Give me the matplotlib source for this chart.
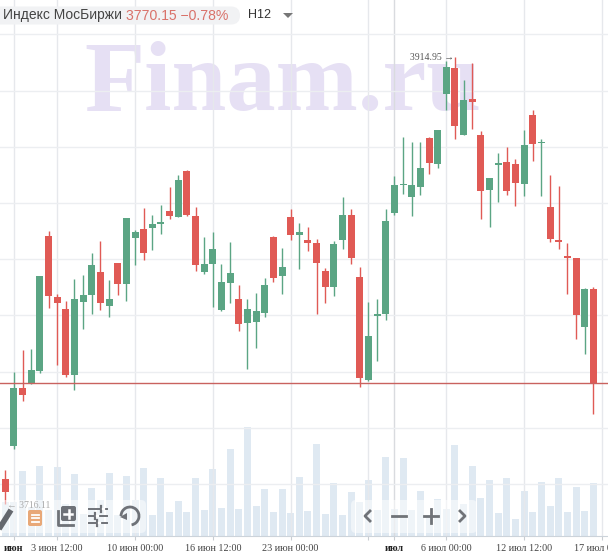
import matplotlib
matplotlib.use('Agg')
import matplotlib.pyplot as plt
from matplotlib.patches import FancyBboxPatch, Arc, Polygon

# MOEX index, H12 candles
opens = [3727.2,3742.0,3767.7,3769.9,3775.4,3835.3,3808.3,3802.8,3773.5,3805.9,3809.1,3819.4,3804.2,3823.3,3813.9,3834.4,
         3838.4,3838.9,3840.6,3846.4,3843.8,3864.2,3844.2,3819.3,3822.8,3802.4,3814.5,3807.3,3796.6,3797.0,3801.0,3834.9,
         3817.5,3843.8,3835.7,3833.5,3832.2,3819.7,3812.7,3833.5,3844.6,3817.1,3771.2,3799.8,3800.6,3845.5,3858.0,3852.7,
         3857.1,3878.9,3867.3,3898.5,3910.0,3880.2,3896.3,3880.2,3855.8,3866.9,3868.2,3867.3,3858.4,3889.1,3876.7,3848.2,
         3833.5,3826.4,3825.5,3794.8,3811.7]
highs = [3731.2,3774.8,3784.6,3785.0,3817.5,3837.5,3809.5,3806.4,3816.2,3818.0,3827.7,3833.1,3815.7,3823.3,3843.3,3838.0,
         3847.6,3844.6,3849.1,3857.1,3862.4,3864.7,3848.2,3834.9,3837.1,3822.8,3832.6,3813.5,3807.3,3809.9,3816.6,3835.3,
         3830.0,3847.3,3841.1,3839.3,3834.0,3821.1,3833.1,3852.7,3847.3,3821.5,3805.9,3807.3,3847.3,3862.0,3879.3,3877.1,
         3877.1,3879.3,3882.5,3913.2,3914.95,3904.7,3912.3,3882.0,3861.1,3872.2,3874.9,3869.6,3882.5,3891.4,3878.5,3862.4,
         3857.5,3832.2,3825.5,3812.2,3812.6]
lows = [3716.11,3740.5,3762.0,3769.7,3774.5,3803.4,3777.9,3772.7,3766.8,3794.1,3800.6,3802.4,3799.4,3809.1,3806.5,3822.4,
        3824.6,3829.1,3836.2,3842.9,3843.8,3844.2,3819.7,3818.4,3803.8,3801.9,3805.6,3793.2,3776.1,3785.5,3799.4,3815.0,
        3809.5,3833.5,3820.6,3828.6,3800.6,3805.6,3808.8,3829.5,3822.8,3768.3,3770.9,3779.7,3797.9,3844.6,3854.0,3844.2,
        3853.5,3862.9,3865.6,3891.4,3878.5,3880.2,3882.9,3842.9,3839.3,3850.4,3853.5,3848.7,3853.1,3868.7,3853.1,3832.6,
        3829.5,3809.5,3789.5,3782.8,3756.1]
closes = [3721.4,3767.8,3764.6,3775.7,3817.5,3808.8,3805.5,3773.5,3807.3,3808.9,3822.4,3805.6,3807.3,3813.9,3843.3,3836.9,
          3827.7,3840.6,3841.7,3844.2,3860.2,3844.6,3822.4,3822.7,3829.5,3815.0,3818.8,3796.2,3802.8,3801.9,3813.5,3816.6,
          3821.5,3835.7,3837.1,3832.2,3823.3,3812.7,3831.8,3844.6,3825.5,3772.1,3790.8,3800.6,3842.0,3858.0,3858.4,3858.0,
          3865.6,3867.8,3882.5,3910.5,3884.2,3895.8,3894.9,3855.3,3861.1,3867.8,3855.3,3858.9,3875.8,3876.2,3877.3,3834.0,
          3832.6,3825.5,3800.2,3811.7,3770.15]
volumes = [34,34,65,29,70,26,69,32,62,22,48,36,63,21,60,36,68,21,58,24,35,24,58,26,67,28,87,27,109,30,47,24,47,23,59,
           25,92,22,53,21,44,34,56,26,79,27,78,26,45,21,37,27,91,32,70,38,56,23,58,17,45,24,54,30,58,24,49,25,53]

price_grid = [3925,3900,3875,3850,3825,3800,3775,3750,3725]
tick_idx = [1,6,15,24,33,42,45,51,60,69]
tick_labels = ['июн','3 июн 12:00','10 июн 00:00','16 июн 12:00','23 июн 00:00','','июл','6 июл 00:00','12 июл 12:00','17 июл 00:00']
month_ticks = [1,45]

GREEN = '#5ba584'
RED = '#e05a55'
GREY = '#707378'
W, H = 608, 560
BASE = 535.7

fig = plt.figure(figsize=(6.08,5.6), dpi=100)
rect = [0, 1-BASE/H, 1, BASE/H]

# watermark goes behind everything
back = fig.add_axes([0,0,1,1], zorder=0)
back.set_xlim(0,W)
back.set_ylim(H,0)
back.axis('off')
back.text(282.5, 110, 'Finam.ru', family='Liberation Serif', weight='bold', fontsize=71, color='#e6e0f4',
          ha='center', va='baseline')

# volume sits underneath, on its own scale
vol_ax = fig.add_axes(rect, zorder=1)
vol_ax.patch.set_visible(False)
vol_ax.set_xlim(-0.613, 69.7)
vol_ax.set_ylim(0, BASE)
vol_ax.bar(range(len(volumes)), volumes, width=0.81, color='#dfe9f2')
vol_ax.axis('off')

ax = fig.add_axes(rect, zorder=2)
ax.patch.set_visible(False)
ax.set_xlim(-0.613, 69.7)
ax.set_ylim(3702.0, 3940.32)
for s in ['top','left','right']:
    ax.spines[s].set_visible(False)
ax.spines['bottom'].set_color('#ccd3da')
ax.set_yticks(price_grid)
ax.tick_params(axis='y', left=False, labelleft=False)
ax.set_xticks(tick_idx)
ax.set_xticklabels(tick_labels, family='Liberation Serif', fontsize=7.3, color='#444444')
ax.tick_params(axis='x', length=3, width=0.8, color='#c9cdd2', pad=3)
for t, lab in zip(tick_idx, ax.get_xticklabels()):
    if t in month_ticks:
        lab.set_fontweight('bold')
        lab.set_color('#222222')
ax.grid(axis='y', color='#eceef1', lw=1)
ax.grid(axis='x', color='#e6e8ec', lw=1)
ax.get_xgridlines()[tick_idx.index(45)].set_color('#d9dbdf')
ax.set_axisbelow(True)

for i in range(len(opens)):
    c = GREEN if closes[i] >= opens[i] else RED
    ax.vlines(i, lows[i], highs[i], color=c, lw=1, zorder=3)
    ax.bar(i, abs(closes[i]-opens[i]), bottom=min(opens[i],closes[i]), width=0.81, color=c, zorder=3)

ax.axhline(closes[-1], color='#c9625f', lw=1, zorder=4)

hi = highs.index(max(highs))
lo = lows.index(min(lows))
ax.annotate(f'{highs[hi]:.2f} →', (hi, highs[hi]), xytext=(-1,0), textcoords='offset points', ha='right', va='center',
            family='Liberation Serif', fontsize=7, color='#555555', zorder=5)
ax.annotate(f'← {lows[lo]:.2f}', (lo, lows[lo]), xytext=(1,-1), textcoords='offset points', ha='left', va='center',
            family='Liberation Serif', fontsize=7, color='#555555', zorder=5)

# header and toolbars are laid out in screen pixels
ov = fig.add_axes([0,0,1,1], zorder=3)
ov.set_xlim(0,W)
ov.set_ylim(H,0)
ov.axis('off')

ov.add_patch(FancyBboxPatch((-10,6.5), 250, 18, boxstyle='round,pad=0,rounding_size=9', fc='#f1f2f4', ec='none', zorder=1))
ov.text(3, 15.5, 'Индекс МосБиржи', family='Liberation Sans', fontsize=10, color='#444444', va='center', zorder=2)
ov.text(125.5, 15.5, '3770.15 −0.78%', family='Liberation Sans', fontsize=10.1, color='#d9726a', va='center', zorder=2)
ov.text(248, 15, 'H12', family='Liberation Sans', fontsize=9, color='#333333', va='center', zorder=2)
ov.add_patch(Polygon([[283,13],[293,13],[288,18]], fc='#777777', ec='none', zorder=2))

# translucent toolbar panels over the volume bars
for x0, w in [(-10,156),(351,126)]:
    ov.add_patch(FancyBboxPatch((x0,500), w, 33, boxstyle='round,pad=0,rounding_size=5', fc='white', ec='none', alpha=0.5, zorder=1))

# pencil
ov.plot([-1,11],[529,510], color='#65686e', lw=4, solid_capstyle='butt', zorder=2)
# orange list button
ov.add_patch(FancyBboxPatch((28,510), 14, 16, boxstyle='round,pad=0,rounding_size=2', fc='#e8a878', ec='none', zorder=2))
for y in [514.5,518,521.5]:
    ov.plot([31.5,38.5],[y,y], color='white', lw=1.3, zorder=3)
# layers with plus
ov.add_patch(FancyBboxPatch((61,506), 15, 15, boxstyle='round,pad=0,rounding_size=2', fc='#6f7278', ec='none', zorder=2))
ov.plot([64,72],[513.5,513.5], color='white', lw=1.8, zorder=3)
ov.plot([68.5,68.5],[509.5,517.5], color='white', lw=1.8, zorder=3)
ov.plot([57.5,57.5,73],[511,525,525], color='#6f7278', lw=2, zorder=2)
# sliders
for y, k in [(509,101),(516,95),(523,97)]:
    ov.plot([89,107],[y,y], color='#6f7278', lw=1.4, zorder=2)
    ov.plot([k,k],[y-3,y+3], color='#6f7278', lw=1.6, zorder=3)
    ov.plot([k+1.6,k+3.2],[y,y], color='white', lw=1.6, zorder=3)
# undo arrow
ov.add_patch(Arc((130,516), 18, 18, theta1=180, theta2=440, color='#6f7278', lw=2, zorder=2))
ov.add_patch(Polygon([[120,517],[127,513],[127,520]], fc='#6f7278', ec='none', zorder=2))
# navigation
ov.plot([370,365,370],[511,516,521], color=GREY, lw=2, zorder=2)
ov.plot([392,406],[516,516], color=GREY, lw=2, zorder=2)
ov.plot([424,438],[516,516], color=GREY, lw=2, zorder=2)
ov.plot([431,431],[509,523], color=GREY, lw=2, zorder=2)
ov.plot([460,465,460],[511,516,521], color=GREY, lw=2, zorder=2)

fig.savefig('out.png', dpi=100)
